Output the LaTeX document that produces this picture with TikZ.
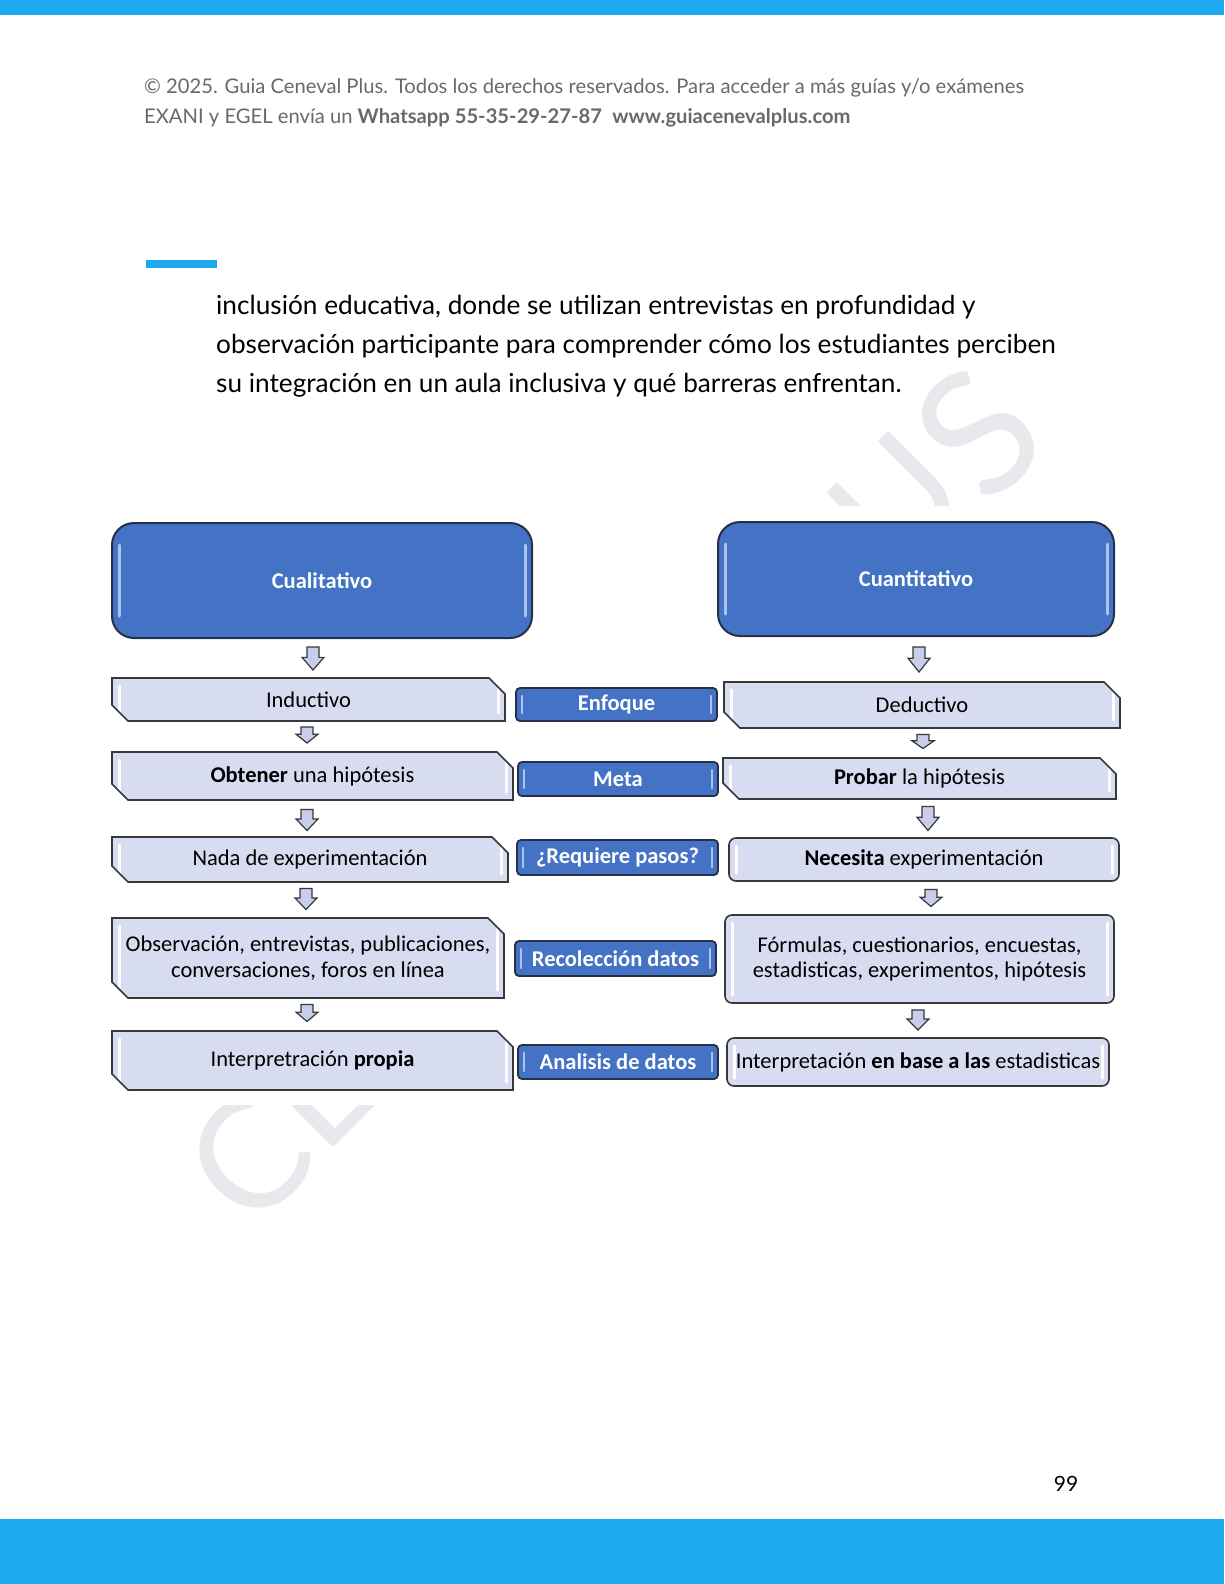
\documentclass[tikz,border=0pt]{standalone}
\usepackage{fontspec}
\setmainfont{Lato}
\newfontfamily\calfont{Carlito}
\usetikzlibrary{shapes.misc}
\definecolor{topblue}{RGB}{29,169,239}
\definecolor{boxblue}{RGB}{68,114,196}
\definecolor{boxedge}{RGB}{38,48,72}
\definecolor{lav}{RGB}{216,220,240}
\definecolor{lavedge}{RGB}{55,55,60}
\definecolor{wmgray}{RGB}{232,233,237}
\definecolor{hdrgray}{RGB}{105,105,105}
\definecolor{hlblue}{RGB}{170,196,240}
\definecolor{arrfill}{RGB}{200,206,234}
\tikzset{
  hlwhite/.style={path picture={
    \draw[white,line width=3pt,line cap=round]
      ([xshift=7pt,yshift=-8pt]path picture bounding box.north west) --
      ([xshift=7pt,yshift=8pt]path picture bounding box.south west);
    \draw[white,line width=3pt,line cap=round]
      ([xshift=-7pt,yshift=-8pt]path picture bounding box.north east) --
      ([xshift=-7pt,yshift=8pt]path picture bounding box.south east);}},
  hlblueS/.style={path picture={
    \draw[hlblue,line width=2.5pt,line cap=round]
      ([xshift=6pt,yshift=-8pt]path picture bounding box.north west) --
      ([xshift=6pt,yshift=8pt]path picture bounding box.south west);
    \draw[hlblue,line width=2.5pt,line cap=round]
      ([xshift=-6pt,yshift=-8pt]path picture bounding box.north east) --
      ([xshift=-6pt,yshift=8pt]path picture bounding box.south east);}},
  hlblueL/.style={path picture={
    \draw[hlblue,line width=3pt,line cap=round]
      ([xshift=7pt,yshift=-22pt]path picture bounding box.north west) --
      ([xshift=7pt,yshift=22pt]path picture bounding box.south west);
    \draw[hlblue,line width=3pt,line cap=round]
      ([xshift=-7pt,yshift=-22pt]path picture bounding box.north east) --
      ([xshift=-7pt,yshift=22pt]path picture bounding box.south east);}},
  bigbox/.style={draw=boxedge,line width=2pt,fill=boxblue,rounded corners=22pt,
    text=white,font=\calfont\fontsize{22.5}{26}\selectfont\bfseries,inner sep=0pt,hlblueL},
  midbox/.style={draw=boxedge,line width=1.8pt,fill=boxblue,rounded corners=4pt,
    text=white,font=\calfont\fontsize{22.5}{26}\selectfont\bfseries,inner sep=0pt,hlblueS},
  chbox/.style={chamfered rectangle,chamfered rectangle corners={north east,south west},
    chamfered rectangle xsep=8pt,chamfered rectangle ysep=8pt,
    draw=lavedge,line width=1.6pt,fill=lav,text=black,
    font=\calfont\fontsize{22.5}{25.5}\selectfont,inner sep=0pt,align=center,hlwhite},
  rbox/.style={rectangle,rounded corners=7pt,draw=lavedge,line width=1.6pt,fill=lav,text=black,
    font=\calfont\fontsize{22.5}{25.5}\selectfont,inner sep=0pt,align=center,hlwhite},
  barrow/.style={draw=lavedge,line width=1.2pt,fill=arrfill,line join=miter},
  wmark/.style={text=wmgray,font=\fontsize{153}{153}\selectfont,inner sep=0pt,rotate=45},
}
% block arrow: name, x, y (centre), height
\newcommand\blockarrow[4]{%
  \coordinate (#1) at (#2,#3);
  \draw[barrow] (#2-6,#3-#4/2) -- (#2+6,#3-#4/2) -- (#2+6,#3-#4*0.05) -- (#2+11,#3-#4*0.05)
    -- (#2,#3+#4/2) -- (#2-11,#3-#4*0.05) -- (#2-6,#3-#4*0.05) -- cycle;}
\begin{document}
\begin{tikzpicture}[x=1pt,y=-1pt]
\useasboundingbox (0,0) rectangle (1224,1584);
\fill[white] (0,0) rectangle (1224,1584);
% bars
\fill[topblue] (0,0) rectangle (1224,15);
\fill[topblue] (0,1519) rectangle (1224,1584);
% watermark (visible parts only)
\begin{scope}
\clip (0,15) rectangle (1224,505) (0,1105) rectangle (1224,1519);
\node[wmark] (wmC) at (249,1159) {C};
\node[wmark] (wmE) at (316,1087) {E};
\node[wmark] (wmU) at (897,501) {U};
\node[wmark,font=\fontsize{172}{172}\selectfont] (wmS) at (978,433) {S};
\end{scope}
% header
\node[anchor=base west,inner sep=0pt,text=hdrgray,font=\fontsize{20.2}{24}\selectfont] (h1) at (144,94)
  {© 2025. Guia Ceneval Plus. Todos los derechos reservados. Para acceder a más guías y/o exámenes};
\node[anchor=base west,inner sep=0pt,text=hdrgray,font=\fontsize{20.2}{24}\selectfont] (h2) at (144,124)
  {EXANI y EGEL envía un \textbf{Whatsapp 55-35-29-27-87}\ \ \textbf{www.guiacenevalplus.com}};
\fill[topblue] (146,260) rectangle (217,268);
% body text
\node[anchor=base west,inner sep=0pt,font=\fontsize{26.2}{30}\selectfont] (t1) at (216,314)
  {inclusión educativa, donde se utilizan entrevistas en profundidad y};
\node[anchor=base west,inner sep=0pt,font=\fontsize{26.2}{30}\selectfont] (t2) at (216,353)
  {observación participante para comprender cómo los estudiantes perciben};
\node[anchor=base west,inner sep=0pt,font=\fontsize{26.2}{30}\selectfont] (t3) at (216,392)
  {su integración en un aula inclusiva y qué barreras enfrentan.};
% top boxes
\node[bigbox,minimum width=420pt,minimum height=115pt] (cual) at (322,580.5) {Cualitativo};
\node[bigbox,minimum width=396pt,minimum height=114pt] (cuan) at (916,579) {Cuantitativo};
% left column
\node[chbox,minimum width=393pt,minimum height=43pt] (ind) at (308.5,699.5) {Inductivo};
\node[chbox,minimum width=401pt,minimum height=48pt] (obt) at (312.5,776) {\textbf{Obtener} una hipótesis};
\node[chbox,minimum width=396pt,minimum height=45pt] (nada) at (310,859.5) {Nada de experimentación};
\node[chbox,minimum width=392pt,minimum height=80pt] (obs) at (308,958) {Observación, entrevistas, publicaciones,\\conversaciones, foros en línea};
\node[chbox,minimum width=401pt,minimum height=59pt] (intp) at (312.5,1060.5) {Interpretración \textbf{propia}};
% middle column
\node[midbox,minimum width=201pt,minimum height=33pt] (enf) at (616.5,704.5) {Enfoque};
\node[midbox,minimum width=200pt,minimum height=34pt] (meta) at (618,779) {Meta};
\node[midbox,minimum width=201pt,minimum height=35pt] (req) at (617.5,857.5) {¿Requiere pasos?};
\node[midbox,minimum width=201pt,minimum height=35pt] (rec) at (615.5,958.5) {Recolección datos};
\node[midbox,minimum width=200pt,minimum height=34pt] (ana) at (618,1062) {Analisis de datos};
% right column
\node[chbox,minimum width=396pt,minimum height=46pt] (ded) at (922,705) {Deductivo};
\node[chbox,minimum width=393pt,minimum height=41pt] (prob) at (919.5,778.5) {\textbf{Probar} la hipótesis};
\node[rbox,minimum width=390pt,minimum height=43pt] (nec) at (924,859.5) {\textbf{Necesita} experimentación};
\node[rbox,minimum width=389pt,minimum height=88pt] (form) at (919.5,959) {Fórmulas, cuestionarios, encuestas,\\estadisticas, experimentos, hipótesis};
\node[rbox,minimum width=382pt,minimum height=48pt] (intb) at (918,1062) {Interpretación \textbf{en base a las} estadisticas};
% block arrows
\blockarrow{a1}{313}{658.5}{23}
\blockarrow{a2}{307}{735}{16}
\blockarrow{a3}{307}{820}{21}
\blockarrow{a4}{306}{899}{21}
\blockarrow{a5}{307}{1013}{17}
\blockarrow{b1}{919}{659.5}{25}
\blockarrow{b2}{923}{741.5}{14}
\blockarrow{b3}{928}{818.5}{24}
\blockarrow{b4}{931}{898}{17}
\blockarrow{b5}{918}{1020}{20}
% page number
\node[inner sep=0pt,font=\fontsize{21}{24}\selectfont] (pg) at (1066,1484) {99};
\end{tikzpicture}
\end{document}
